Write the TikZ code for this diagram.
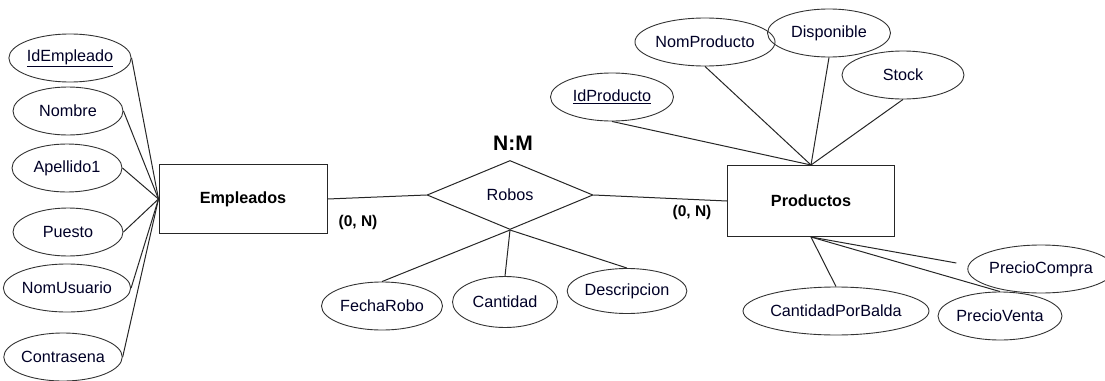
\documentclass[tikz,border=0pt]{standalone}
\usepackage{fontspec}
\setmainfont{Liberation Sans}
\usetikzlibrary{shapes.geometric,calc}
\begin{document}
\begin{tikzpicture}[x=1pt,y=-1pt,
  attr/.style={draw=black!80, line width=0.9pt, ellipse, inner sep=0pt, minimum width=#1, minimum height=48pt, font=\fontsize{16.2}{19}\selectfont, text=black!85!blue},
  attr/.default=110pt,
  entity/.style={draw=black!85, line width=1pt, rectangle, minimum width=168pt, minimum height=69pt, font=\fontsize{16.2}{19}\selectfont\bfseries},
  rel/.style={draw=black!85, line width=1pt, diamond, aspect=2.4, inner sep=0pt, minimum width=166pt, minimum height=69pt, font=\fontsize{16.2}{19}\selectfont, text=black!85!blue},
  card/.style={font=\fontsize{15.5}{18}\selectfont\bfseries, inner sep=0pt},
  conn/.style={draw=black!85, line width=1pt}]
\useasboundingbox (0,0) rectangle (1105,380);

% Employees
\node[entity] (emp) at (243,199) {Empleados};
\node[attr] (idemp) at (70,58) {\underline{IdEmpleado}};
\node[attr] (nom) at (68,111) {Nombre};
\node[attr] (ape) at (67,168) {Apellido1};
\node[attr] (pue) at (68,232) {Puesto};
\node[attr] (nus) at (67,288) {NomUsuario};
\node[attr] (con) at (63,357) {Contrasena};
\foreach \a in {idemp,nom,ape,pue,nus,con} \draw[conn] (\a.east) -- (emp.west);

% Relationship
\node[rel] (rob) at (510,195) {Robos};
\node[font=\fontsize{21}{24}\selectfont\bfseries, inner sep=0pt] (nm) at (513,143) {N:M};
\node[attr=121pt] (fr) at (382,306) {FechaRobo};
\node[attr=105pt, minimum height=51pt] (cant) at (505,302) {Cantidad};
\node[attr=107pt, minimum height=45pt] (desc) at (627,291) {Descripcion};
\foreach \a in {fr,cant,desc} \draw[conn] (rob.south) -- (\a.north);

% Products
\node[entity, minimum width=167pt, minimum height=71pt] (prod) at (811,201) {Productos};
\node[attr=123pt] (idp) at (612,97) {\underline{IdProducto}};
\node[attr=123pt] (np) at (705,42) {NomProducto};
\node[attr=123pt] (dis) at (829,33) {Disponible};
\node[attr=122pt] (sto) at (903,75) {Stock};
\foreach \a in {idp,np,dis,sto} \draw[conn] (\a.south) -- (prod.north);
\node[attr=162pt] (cpb) at (836,311) {CantidadPorBalda};
\node[attr=127pt] (pc) at (1041,269) {PrecioCompra};
\node[attr=124pt] (pv) at (1000,316) {PrecioVenta};
\coordinate (pcend) at ($(pc.west)+(-11,-6)$);
\draw[conn] (prod.south) -- (cpb.north);
\draw[conn] (prod.south) -- (pcend);
\draw[conn] (prod.south) -- (pv.north);

% Connections
\draw[conn] (emp.east) -- (rob.west);
\draw[conn] (rob.east) -- (prod.west);
\node[card] (c1) at (358,222) {(0, N)};
\node[card] (c2) at (692,212) {(0, N)};
\end{tikzpicture}
\end{document}
